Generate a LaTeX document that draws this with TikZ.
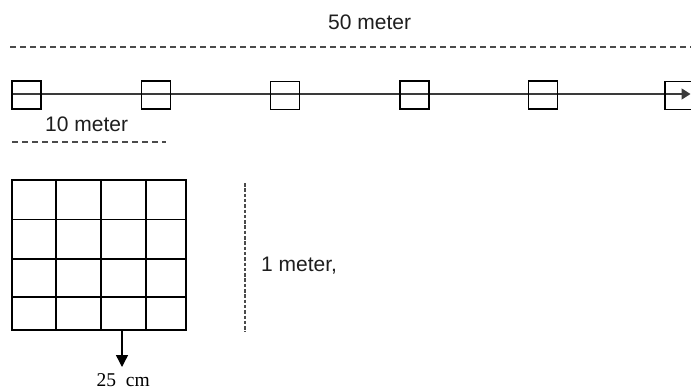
\documentclass[tikz,border=0pt]{standalone}
\usepackage{fontspec}
\setmainfont{Liberation Sans}
\newfontfamily\serifcm{Liberation Serif}
\usetikzlibrary{arrows.meta}
\definecolor{dimgray}{HTML}{4A4A4A}
\definecolor{linegray}{HTML}{3A3A3A}
\definecolor{txt}{HTML}{1E1E1E}
\tikzset{
  dimline/.style={draw=dimgray, line width=1.5bp, dash pattern=on 6bp off 4bp},
  vdimline/.style={draw=dimgray, line width=1.6bp, dash pattern=on 3.5bp off 1.8bp},
  marker/.style={draw=black, line width=1.4bp, minimum width=29bp, minimum height=28bp, inner sep=0pt, outer sep=0pt},
  gridline/.style={draw=black, line width=1.4bp},
  lbl/.style={anchor=base west, inner sep=0pt, text=txt, font=\fontsize{21bp}{25bp}\selectfont},
  cmlbl/.style={anchor=base west, inner sep=0pt, text=black, font=\serifcm\fontsize{19.5bp}{22bp}\selectfont},
}
\begin{document}
\begin{tikzpicture}[x=1bp,y=-1bp]
\useasboundingbox (0,0) rectangle (691,389);
% labels
\node[lbl] (t50) at (328,29) {50 meter};
\node[lbl] (t10) at (45,131.5) {10 meter};
\node[lbl] (t1) at (261,271.5) {1 meter,};
\node[cmlbl] (t25) at (96.5,386) {25\ \ cm};
% dimension lines
\coordinate (d50a) at (10,47);
\coordinate (d50b) at (691,47);
\draw[dimline] (d50a) -- (d50b);
\coordinate (d10a) at (12,142);
\coordinate (d10b) at (166,142);
\draw[dimline] (d10a) -- (d10b);
\coordinate (d1a) at (245,183);
\coordinate (d1b) at (245,332);
\draw[vdimline] (d1a) -- (d1b);
% main line with markers
\coordinate (lstart) at (12,94);
\coordinate (lend) at (690.5,94);
\draw[draw=linegray, line width=1.6bp, -{Triangle[length=9bp,width=11bp]}] (lstart) -- (lend);
\node[marker] (m1) at (26.5,95) {};
\node[marker] (m2) at (156,95) {};
\node[marker] (m3) at (285,95.5) {};
\node[marker] (m4) at (414.5,95) {};
\node[marker] (m5) at (543,95) {};
\node[marker] (m6) at (679.5,95.5) {};
% grid
\draw[gridline] (12,180) rectangle (186,330);
\foreach \xx in {56,101,146} \draw[gridline] (\xx,179) -- (\xx,331);
\foreach \yy in {219.5,259,297} \draw[gridline] (12,\yy) -- (186,\yy);
% down arrow
\coordinate (ga) at (122,330);
\coordinate (gb) at (122,367);
\draw[draw=black, line width=1.4bp, -{Triangle[length=12bp,width=12bp]}] (ga) -- (gb);
\end{tikzpicture}
\end{document}
